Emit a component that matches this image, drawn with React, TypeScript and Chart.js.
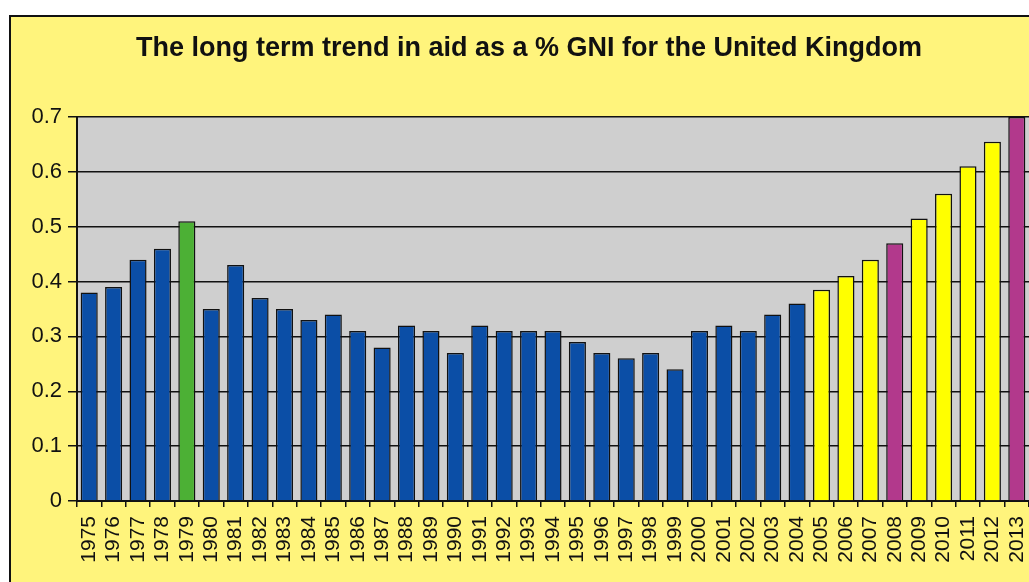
import React, { useEffect, useRef } from "react";
import { Chart, registerables } from "chart.js";

Chart.register(...registerables);

const titleText = "The long term trend in aid as a % GNI for the United Kingdom";

const years = [
  "1975", "1976", "1977", "1978", "1979", "1980", "1981", "1982", "1983", "1984",
  "1985", "1986", "1987", "1988", "1989", "1990", "1991", "1992", "1993", "1994",
  "1995", "1996", "1997", "1998", "1999", "2000", "2001", "2002", "2003", "2004",
  "2005", "2006", "2007", "2008", "2009", "2010", "2011", "2012", "2013",
];

const aidPctGNI = [
  0.38, 0.39, 0.44, 0.46, 0.51, 0.35, 0.43, 0.37, 0.35, 0.33,
  0.34, 0.31, 0.28, 0.32, 0.31, 0.27, 0.32, 0.31, 0.31, 0.31,
  0.29, 0.27, 0.26, 0.27, 0.24, 0.31, 0.32, 0.31, 0.34, 0.36,
  0.385, 0.41, 0.44, 0.47, 0.515, 0.56, 0.61, 0.655, 0.70,
];

const greenYears = ["1979"];
const yellowYears = ["2005", "2006", "2007", "2009", "2010", "2011", "2012"];
const magentaYears = ["2008", "2013"];

const yTicks = [0, 0.1, 0.2, 0.3, 0.4, 0.5, 0.6, 0.7];

const BLUE = "#0b4ea6";
const GREEN = "#4cb035";
const YELLOW = "#ffff00";
const MAGENTA = "#b2398c";
const PAGE_YELLOW = "#fff47c";
const PLOT_GRAY = "#cfcfcf";

const barColor = (y: string) =>
  greenYears.includes(y) ? GREEN : yellowYears.includes(y) ? YELLOW : magentaYears.includes(y) ? MAGENTA : BLUE;

const decorPlugin = {
  id: "decor",
  beforeDraw(chart: any) {
    const { ctx, chartArea, width, height } = chart;
    ctx.save();
    ctx.fillStyle = "#ffffff";
    ctx.fillRect(0, 0, width, height);
    ctx.fillStyle = PAGE_YELLOW;
    ctx.fillRect(11, 17, width + 20, height + 20);
    ctx.strokeStyle = "#111";
    ctx.lineWidth = 2;
    ctx.strokeRect(10, 16, width + 40, height + 40);
    ctx.fillStyle = PLOT_GRAY;
    ctx.fillRect(chartArea.left, chartArea.top, chartArea.right - chartArea.left, chartArea.bottom - chartArea.top);
    ctx.fillStyle = "#111";
    ctx.font = "bold 27px 'Liberation Sans', Arial, sans-serif";
    ctx.textAlign = "center";
    ctx.textBaseline = "middle";
    ctx.fillText(titleText, 529, 49);
    ctx.restore();
  },
};

export default function App() {
  const ref = useRef<HTMLCanvasElement | null>(null);
  useEffect(() => {
    if (!ref.current) return;
    const chart = new Chart(ref.current, {
      type: "bar",
      data: {
        labels: years,
        datasets: [
          {
            data: aidPctGNI,
            backgroundColor: years.map(barColor),
            borderColor: "#111",
            borderWidth: 1.5,
            barPercentage: 0.7,
            categoryPercentage: 1,
          },
        ],
      },
      options: {
        responsive: false,
        animation: false,
        layout: { padding: { top: 117, left: 0, right: 0, bottom: 0 } },
        plugins: { legend: { display: false }, tooltip: { enabled: false }, title: { display: false } },
        scales: {
          x: {
            grid: { display: true, drawOnChartArea: false, drawTicks: true, tickLength: 6, color: "#111", lineWidth: 1.5 },
            border: { display: true, color: "#111", width: 2 },
            ticks: {
              autoSkip: false,
              maxRotation: 90,
              minRotation: 90,
              padding: 9,
              color: "#111",
              font: { family: "'Liberation Sans', Arial, sans-serif", size: 21 },
            },
            afterFit(scale: any) {
              scale.height = 81;
              scale.paddingLeft = 0;
              scale.paddingRight = 0;
            },
          },
          y: {
            min: 0,
            max: 0.7,
            afterBuildTicks(scale: any) {
              scale.ticks = yTicks.map((v) => ({ value: v }));
            },
            grid: { color: "#111", lineWidth: 1.5, tickLength: 9 },
            border: { display: true, color: "#111", width: 2 },
            ticks: {
              padding: 6,
              color: "#111",
              font: { family: "'Liberation Sans', Arial, sans-serif", size: 22 },
              callback: (v: any) => String(Math.round(Number(v) * 10) / 10),
            },
            afterFit(scale: any) {
              scale.width = 77;
              scale.paddingTop = 0;
              scale.paddingBottom = 0;
            },
          },
        },
      },
      plugins: [decorPlugin],
    });
    return () => chart.destroy();
  }, []);
  return (
    <div style={{ position: "fixed", left: 0, top: 0, width: 1029, height: 582 }}>
      <canvas ref={ref} width={1029} height={582} style={{ display: "block" }} />
    </div>
  );
}
